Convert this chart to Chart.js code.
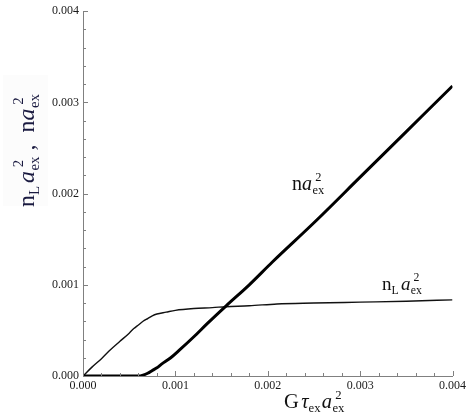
<!DOCTYPE html>
<html><head><meta charset="utf-8">
<script src="https://cdn.jsdelivr.net/npm/chart.js@4.4.1/dist/chart.umd.min.js"></script>
<style>html,body{margin:0;padding:0;background:#fff}#wrap{width:469px;height:415px;position:relative}</style>
</head><body><div id="wrap"><canvas id="c"></canvas></div>
<script>
// thick curve: n a_ex^2
const xN = [0, 0.0003, 0.0006, 0.00065, 0.0007, 0.00075, 0.0008, 0.00085, 0.00095, 0.00104, 0.0012, 0.00135, 0.00155, 0.0018, 0.00205, 0.0025, 0.003, 0.0035, 0.004];
const yN = [0, 0, 0, 0.00001, 0.00003, 0.00006, 0.00009, 0.00013, 0.0002, 0.00028, 0.00043, 0.00058, 0.00077, 0.001, 0.00125, 0.00168, 0.00218, 0.00268, 0.00318];
// thin curve: n_L a_ex^2
const xL = [0, 0.0001, 0.0002, 0.0003, 0.0004, 0.0005, 0.00055, 0.0006, 0.00065, 0.0007, 0.00075, 0.0008, 0.0009, 0.001, 0.0012, 0.0014, 0.00155, 0.0018, 0.0021, 0.0025, 0.003, 0.0035, 0.004];
const yL = [0, 0.0001, 0.00019, 0.00029, 0.00038, 0.00047, 0.00052, 0.00056, 0.0006, 0.00063, 0.00066, 0.00068, 0.0007, 0.00072, 0.00074, 0.00075, 0.00076, 0.00077, 0.00079, 0.0008, 0.00081, 0.00082, 0.000835];
const xTicks = [0, 0.001, 0.002, 0.003, 0.004];
const yTicks = [0, 0.001, 0.002, 0.003, 0.004];
const tickLabels = ['0.000', '0.001', '0.002', '0.003', '0.004'];
const minorPerMajor = 5;

const FAM = '"Liberation Serif", "Times New Roman", serif';
function rich(ctx, segs, x, y, base, color) {
  let cx = x;
  for (const s of segs) {
    const size = base * (s.s || 1);
    ctx.font = (s.i ? 'italic ' : '') + size + 'px ' + FAM;
    ctx.fillStyle = color;
    ctx.textBaseline = 'alphabetic';
    ctx.textAlign = 'left';
    ctx.fillText(s.t, cx + (s.dx || 0) * base, y + (s.dy || 0) * base);
    const w = ctx.measureText(s.t).width;
    if (s.adv !== false) cx += w + (s.sp || 0) * base;
  }
  return cx - x;
}
const SUP2 = {t: '2', s: 0.62, dy: -0.45, adv: false, dx: 0.14};
const EX = {t: 'ex', s: 0.62, dy: 0.2};
const segN = [{t: 'n'}, {t: 'a', i: true, sp: 0.02}, SUP2, EX];
const segL = [{t: 'n'}, {t: 'L', s: 0.62, dy: 0.2, sp: 0.12}, {t: 'a', i: true, sp: 0.02}, SUP2, EX];
const segY = [{t: 'n'}, {t: 'L', s: 0.62, dy: 0.2, sp: 0.12}, {t: 'a', i: true, sp: 0.02}, SUP2, EX, {t: ' ,  '}, {t: 'n'}, {t: 'a', i: true, sp: 0.02}, SUP2, EX];
const segX = [{t: 'G', sp: 0.12}, {t: 'τ', i: true}, {t: 'ex', s: 0.62, dy: 0.2, sp: 0.06}, {t: 'a', i: true, sp: 0.02}, SUP2, EX];

const deco = {
  id: 'deco',
  beforeDraw(chart) {
    const ctx = chart.ctx;
    ctx.save();
    ctx.fillStyle = '#fcfcfc';
    ctx.fillRect(3, 75, 45, 131);
    ctx.restore();
  },
  afterDraw(chart) {
    const ctx = chart.ctx, xs = chart.scales.x, ys = chart.scales.y, a = chart.chartArea;
    ctx.save();
    ctx.strokeStyle = '#808080';
    ctx.lineWidth = 1;
    const drawTicks = (vals, isX) => {
      for (let i = 0; i < vals.length; i++) {
        const subs = [];
        subs.push([vals[i], 5]);
        if (i < vals.length - 1) {
          const st = (vals[i + 1] - vals[i]) / minorPerMajor;
          for (let k = 1; k < minorPerMajor; k++) subs.push([vals[i] + k * st, 3]);
        }
        for (const [v, len] of subs) {
          ctx.beginPath();
          if (isX) { const p = Math.round(xs.getPixelForValue(v)) + 0.5; ctx.moveTo(p, a.bottom); ctx.lineTo(p, a.bottom - len); }
          else { const p = Math.round(ys.getPixelForValue(v)) + 0.5; ctx.moveTo(a.left, p); ctx.lineTo(a.left + len, p); }
          ctx.stroke();
        }
      }
    };
    drawTicks(xTicks, true);
    drawTicks(yTicks, false);
    ctx.restore();

    ctx.save();
    rich(ctx, segN, 292, 190, 20, '#111');
    rich(ctx, segL, 382, 290, 19, '#111');
    rich(ctx, segX, 284, 408, 20.5, '#111');
    ctx.translate(34, 207);
    ctx.rotate(-Math.PI / 2);
    rich(ctx, segY, 0, 0, 24, '#1a1a40');
    ctx.restore();
  }
};

new Chart(document.getElementById('c'), {
  type: 'scatter',
  data: {
    datasets: [
      {label: 'n a_ex^2', data: xN.map((x, i) => ({x, y: yN[i]})), showLine: true, borderColor: '#000', borderWidth: 3, pointRadius: 0, cubicInterpolationMode: 'monotone'},
      {label: 'n_L a_ex^2', data: xL.map((x, i) => ({x, y: yL[i]})), showLine: true, borderColor: '#111', borderWidth: 1.4, pointRadius: 0, cubicInterpolationMode: 'monotone'}
    ]
  },
  options: {
    responsive: true, maintainAspectRatio: false, animation: false, devicePixelRatio: 1,
    layout: {padding: {top: 5, right: 15, left: 0, bottom: 0}},
    plugins: {legend: {display: false}, tooltip: {enabled: false}},
    scales: {
      x: {
        type: 'linear', min: 0, max: 0.004,
        grid: {display: false, drawTicks: false},
        border: {display: true, color: '#808080', width: 1},
        afterBuildTicks: s => { s.ticks = xTicks.map(v => ({value: v})); },
        afterFit: s => { s.height = 39; },
        ticks: {padding: 3, color: '#1a1a1a', font: {family: 'Liberation Serif', size: 12}, maxRotation: 0,
          callback: (v) => tickLabels[xTicks.findIndex(t => Math.abs(t - v) < 1e-9)]}
      },
      y: {
        type: 'linear', min: 0, max: 0.004,
        grid: {display: false, drawTicks: false},
        border: {display: true, color: '#808080', width: 1},
        afterBuildTicks: s => { s.ticks = yTicks.map(v => ({value: v})); },
        afterFit: s => { s.width = 83; },
        ticks: {padding: 4, color: '#1a1a1a', font: {family: 'Liberation Serif', size: 12},
          callback: (v) => tickLabels[yTicks.findIndex(t => Math.abs(t - v) < 1e-9)]}
      }
    }
  },
  plugins: [deco]
});
</script></body></html>
